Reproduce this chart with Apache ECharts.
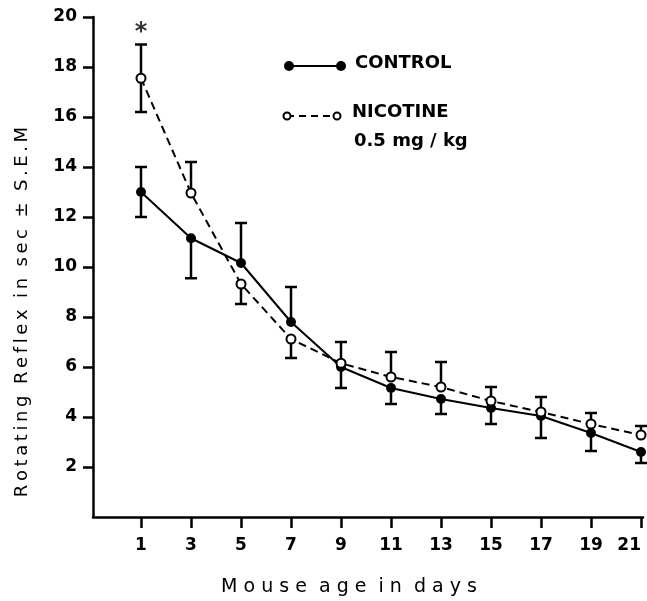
<!DOCTYPE html>
<html>
<head>
<meta charset="utf-8">
<script src="https://cdn.jsdelivr.net/npm/echarts@6/dist/echarts.min.js"></script>
<style>
  html, body { margin: 0; padding: 0; background: #fff; }
  #chart { width: 647px; height: 601px; }
</style>
</head>
<body>
<div id="chart"></div>
<script>
// 数据
var days = [1, 3, 5, 7, 9, 11, 13, 15, 17, 19, 21]
var control = [13.0, 11.15, 10.16, 7.8, 6.0, 5.16, 4.72, 4.36, 4.04, 3.36, 2.6]
var controlSem = [1.0, 1.6, 1.6, 1.4, 0.84, 0.64, 0.6, 0.64, 0.88, 0.72, 0.44]
// 误差线方向 0 双向 1 向上 -1 向下
var controlSide = [0, -1, 1, 1, -1, -1, -1, -1, -1, -1, -1]
var nicotine = [17.55, 12.96, 9.32, 7.12, 6.15, 5.6, 5.2, 4.64, 4.2, 3.72, 3.28]
var nicotineSem = [1.35, 1.24, 0.8, 0.76, 0.85, 1.0, 1.0, 0.56, 0.6, 0.44, 0.36]
var nicotineSide = [0, 1, -1, -1, 1, 1, 1, 1, 1, 1, 1]
// 显著性标记
var starMarks = [[1, 19.35]]
var xTicks = [1, 3, 5, 7, 9, 11, 13, 15, 17, 19, 21]
var yTicks = [2, 4, 6, 8, 10, 12, 14, 16, 18, 20]

var font = 'DejaVu Sans'

// 字母间加细空格
function spaced(str) {
  return str.split('').join('\u2009')
}
function pairs(ys) {
  return days.map(function (d, i) { return [d, ys[i]] })
}
function errData(ys, sem, side) {
  return days.map(function (d, i) { return [d, ys[i], sem[i], side[i]] })
}

// 误差线
function renderErr(params, api) {
  var x = api.value(0), y = api.value(1), sem = api.value(2), side = api.value(3)
  var hi = side === -1 ? y : y + sem
  var lo = side === 1 ? y : y - sem
  var top = api.coord([x, hi])
  var bot = api.coord([x, lo])
  var half = 6
  var style = { stroke: '#000', lineWidth: 2.5 }
  var children = [{ type: 'line', shape: { x1: top[0], y1: top[1], x2: bot[0], y2: bot[1] }, style: style }]
  if (side !== -1) children.push({ type: 'line', shape: { x1: top[0] - half, y1: top[1], x2: top[0] + half, y2: top[1] }, style: style })
  if (side !== 1) children.push({ type: 'line', shape: { x1: bot[0] - half, y1: bot[1], x2: bot[0] + half, y2: bot[1] }, style: style })
  return { type: 'group', children: children }
}

var option = {
  backgroundColor: '#fff',
  animation: false,
  grid: { left: 93, top: 17, right: 4, bottom: 84, containLabel: false, outerBoundsMode: 'none' },
  xAxis: {
    type: 'value',
    min: -0.92,
    max: 21.08,
    name: 'M o u s e  a g e  i n  d a y s',
    nameLocation: 'middle',
    nameGap: 61,
    nameTextStyle: { fontFamily: font, fontSize: 19, color: '#000', padding: [0, 38, 0, 0] },
    axisLine: { onZero: false, lineStyle: { color: '#000', width: 2.5 } },
    axisTick: { customValues: xTicks, length: 11, lineStyle: { color: '#000', width: 2.5 } },
    axisLabel: { customValues: xTicks, margin: 20, alignMaxLabel: 'right', fontFamily: font, fontWeight: 'bold', fontSize: 17, color: '#000' },
    splitLine: { show: false }
  },
  yAxis: {
    type: 'value',
    min: 0,
    max: 20,
    name: spaced('Rotating') + '  ' + spaced('Reflex') + '  ' + spaced('in') + '  ' + spaced('sec') + '  ±  ' + spaced('S.E.M'),
    nameLocation: 'middle',
    nameGap: 62,
    nameTextStyle: { fontFamily: font, fontSize: 18, color: '#000', padding: [0, 90, 0, 0] },
    axisLine: { onZero: false, lineStyle: { color: '#000', width: 2.5 } },
    axisTick: { customValues: yTicks, length: 10, lineStyle: { color: '#000', width: 2.5 } },
    axisLabel: { customValues: yTicks, margin: 16, fontFamily: font, fontWeight: 'bold', fontSize: 17, color: '#000' },
    splitLine: { show: false }
  },
  series: [
    {
      type: 'custom',
      renderItem: renderErr,
      data: errData(control, controlSem, controlSide),
      z: 1
    },
    {
      type: 'custom',
      renderItem: renderErr,
      data: errData(nicotine, nicotineSem, nicotineSide),
      z: 1
    },
    {
      name: 'CONTROL',
      type: 'line',
      data: pairs(control),
      symbol: 'circle',
      symbolSize: 10,
      lineStyle: { color: '#000', width: 2 },
      itemStyle: { color: '#000' },
      z: 3
    },
    {
      name: 'NICOTINE',
      type: 'line',
      data: pairs(nicotine),
      symbol: 'circle',
      symbolSize: 9,
      lineStyle: { color: '#000', width: 2, type: [8, 5] },
      itemStyle: { color: '#fff', borderColor: '#000', borderWidth: 2 },
      z: 4
    },
    {
      // 星号
      type: 'scatter',
      data: starMarks,
      symbol: 'circle',
      symbolSize: 1,
      itemStyle: { color: 'transparent' },
      label: { show: true, position: 'inside', formatter: '*', fontFamily: font, fontWeight: 'bold', fontSize: 24, color: '#000' },
      silent: true,
      z: 5
    }
  ],
  // 图例
  graphic: [
    { type: 'line', shape: { x1: 289, y1: 66, x2: 341, y2: 66 }, style: { stroke: '#000', lineWidth: 2 } },
    { type: 'circle', shape: { cx: 289, cy: 66, r: 5 }, style: { fill: '#000' } },
    { type: 'circle', shape: { cx: 341, cy: 66, r: 5 }, style: { fill: '#000' } },
    { type: 'text', x: 355, y: 63, style: { text: 'CONTROL', font: 'bold 18px ' + font, fill: '#000', verticalAlign: 'middle' } },
    { type: 'line', shape: { x1: 287, y1: 116, x2: 337, y2: 116 }, style: { stroke: '#000', lineWidth: 2, lineDash: [7, 5] } },
    { type: 'circle', shape: { cx: 287, cy: 116, r: 3.5 }, style: { fill: '#fff', stroke: '#000', lineWidth: 2 } },
    { type: 'circle', shape: { cx: 337, cy: 116, r: 3.5 }, style: { fill: '#fff', stroke: '#000', lineWidth: 2 } },
    { type: 'text', x: 352, y: 112, style: { text: 'NICOTINE', font: 'bold 18px ' + font, fill: '#000', verticalAlign: 'middle' } },
    { type: 'text', x: 354, y: 141, style: { text: '0.5 mg / kg', font: 'bold 18px ' + font, fill: '#000', verticalAlign: 'middle' } }
  ]
}

var myChart = echarts.init(document.getElementById('chart'))
myChart.setOption(option)
</script>
</body>
</html>
